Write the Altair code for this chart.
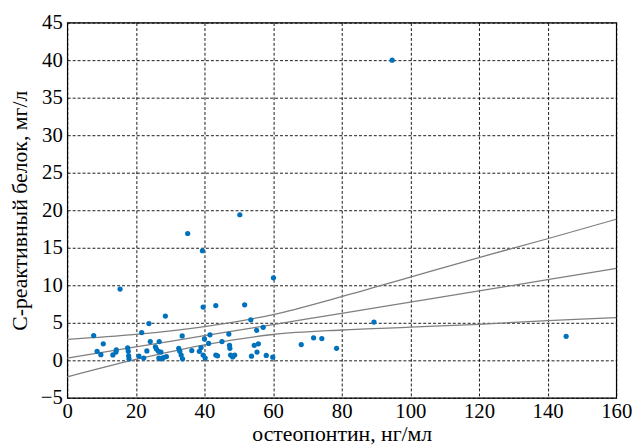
import altair as alt
import pandas as pd

# scatter data: osteopontin (ng/ml) vs C-reactive protein (mg/l)
opn = [7.7, 8.7, 9.8, 10.5, 13.3, 14.2, 14.3, 15.4, 17.6, 17.8, 17.9, 18.0,
       20.9, 22.3, 21.7, 23.8, 23.2, 24.2, 26.8, 25.7, 26.0, 26.6, 27.3, 26.7,
       27.3, 28.0, 28.9, 28.6, 32.5, 32.8, 33.2, 33.6, 33.5, 35.1, 36.3, 38.5,
       39.0, 39.6, 40.2, 39.4, 39.6, 40.0, 41.2, 41.6, 43.3, 43.3, 43.8, 45.1,
       47.1, 47.3, 47.4, 47.6, 48.2, 48.8, 50.3, 51.7, 53.5, 53.7, 54.5, 55.2,
       55.7, 55.3, 57.1, 58.0, 59.9, 60.1, 68.2, 71.8, 74.2, 78.5, 89.4, 94.7,
       145.4]
crp = [3.3, 1.2, 0.75, 2.2, 0.72, 1.1, 1.4, 9.5, 1.65, 1.2, 0.6, 0.2,
       0.55, 0.3, 3.7, 4.9, 1.25, 2.5, 2.5, 1.8, 1.5, 1.2, 1.1, 0.3,
       0.2, 0.35, 0.5, 5.9, 1.6, 1.2, 0.7, 0.2, 3.25, 16.9, 1.3, 1.2,
       1.7, 0.7, 0.3, 14.6, 7.1, 2.85, 2.25, 3.4, 7.3, 0.7, 0.6, 2.5,
       3.5, 2.0, 1.6, 0.7, 0.45, 0.7, 19.4, 7.4, 5.4, 0.55, 2.0, 4.0,
       2.2, 1.1, 4.4, 0.65, 0.42, 11.0, 2.1, 3.0, 2.9, 1.6, 5.1, 40.0,
       3.2]

# regression line and its band
line_x = [0, 20, 40, 60, 80, 100, 120, 140, 160]
fit_mid = [0.29, 1.78, 3.28, 4.77, 6.27, 7.76, 9.25, 10.75, 12.24]
fit_up = [2.8, 3.45, 4.5, 6.1, 8.5, 11.1, 13.7, 16.2, 18.8]
fit_lo = [-2.22, 0.11, 2.06, 3.44, 4.04, 4.42, 4.8, 5.3, 5.68]

x_ticks = [0, 20, 40, 60, 80, 100, 120, 140, 160]
y_ticks = [-5, 0, 5, 10, 15, 20, 25, 30, 35, 40, 45]

pts = pd.DataFrame({"x": opn, "y": crp})
lines = pd.concat([
    pd.DataFrame({"x": line_x, "y": fit_up, "s": "up"}),
    pd.DataFrame({"x": line_x, "y": fit_mid, "s": "mid"}),
    pd.DataFrame({"x": line_x, "y": fit_lo, "s": "lo"}),
])

FONT = "Liberation Serif"
xscale = alt.Scale(domain=[0, 160], nice=False, zero=False)
yscale = alt.Scale(domain=[-5, 45], nice=False, zero=False)
ax_style = dict(grid=True, gridColor="#000000", gridDash=[3, 2], gridOpacity=0.9,
                gridWidth=1, ticks=False, domain=False, labelFont=FONT,
                labelFontSize=21, labelColor="#000000", titleFont=FONT,
                titleFontSize=22, titleFontWeight="normal", titleColor="#000000",
                labelFlush=False, labelOverlap=False)
xaxis = alt.Axis(values=x_ticks, title="остеопонтин, нг/мл", labelPadding=3,
                 titlePadding=2, **ax_style)
yaxis = alt.Axis(values=y_ticks, title="С-реактивный белок, мг/л", labelPadding=5,
                 titlePadding=9, **ax_style)

band = alt.Chart(lines).mark_line(color="#7f7f7f", strokeWidth=1.3,
                                  interpolate="monotone").encode(
    x=alt.X("x:Q", scale=xscale, axis=xaxis),
    y=alt.Y("y:Q", scale=yscale, axis=yaxis),
    detail="s:N",
)

dots = alt.Chart(pts).mark_circle(color="#0072BD", size=28, opacity=1).encode(
    x=alt.X("x:Q", scale=xscale, axis=xaxis),
    y=alt.Y("y:Q", scale=yscale, axis=yaxis),
)

chart = alt.layer(band, dots).properties(
    width=556, height=380,
    autosize=alt.AutoSizeParams(type="none"),
    padding={"left": 60, "top": 12, "right": 17, "bottom": 50},
).configure(
    font=FONT
).configure_view(
    stroke="#000000", strokeWidth=1.2
)

chart.save("out.html", embed_options={"renderer": "svg", "actions": False})
